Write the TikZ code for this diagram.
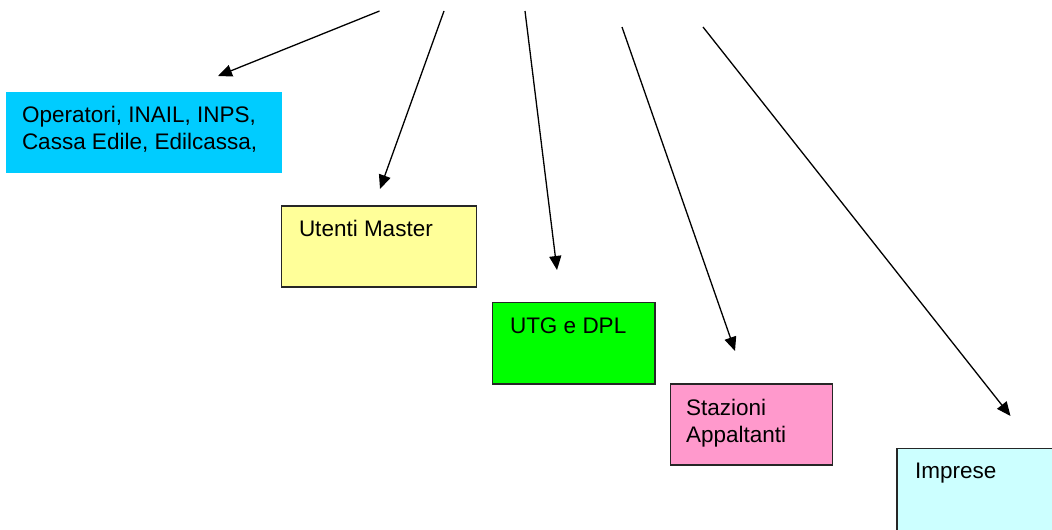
\documentclass[tikz,border=0pt]{standalone}
\usepackage{fontspec}
\setmainfont{Liberation Sans}
\usetikzlibrary{arrows.meta}
\definecolor{cOp}{HTML}{00CCFF}
\definecolor{cMa}{HTML}{FFFF99}
\definecolor{cUt}{HTML}{00FF00}
\definecolor{cSt}{HTML}{FF99CC}
\definecolor{cIm}{HTML}{CCFFFF}
\newcommand\boxtxt[5]{\vbox to #2{\hsize=#1\relax\parindent=0pt\parskip=0pt\leftskip=#3\relax\rightskip=0pt plus 1fil\relax\vskip #4\relax\fontsize{22.5}{27}\selectfont #5\par\vfill}}
\begin{document}
\begin{tikzpicture}[x=1pt,y=-1pt,
  bx/.style={anchor=north west, inner sep=0pt, outer sep=0pt, draw=black!85, line width=1.3pt},
  arr/.style={line width=1.3pt, -{Triangle[length=14pt,width=12pt]}}]
\useasboundingbox (0,0) rectangle (1052,530);
\fill[white] (0,0) rectangle (1052,530);
\clip (0,0) rectangle (1052,530);
\node[bx, draw=none, fill=cOp] (op) at (6,92) {\boxtxt{276pt}{81pt}{16pt}{14.3pt}{Operatori, INAIL, INPS,\\Cassa Edile, Edilcassa,}};
\node[bx, fill=cMa] (ma) at (281.5,206) {\boxtxt{195pt}{81pt}{17.5pt}{14pt}{Utenti Master}};
\node[bx, fill=cUt] (ut) at (492.5,302.5) {\boxtxt{162.5pt}{81.5pt}{17.5pt}{15.6pt}{UTG e DPL}};
\node[bx, fill=cSt] (st) at (670.5,384) {\boxtxt{162pt}{81pt}{15.5pt}{15.3pt}{Stazioni\\Appaltanti}};
\node[bx, fill=cIm] (im) at (897,448.5) {\boxtxt{200pt}{120pt}{18pt}{14.2pt}{Imprese}};
\coordinate (s1) at (379.5,11);  \coordinate (e1) at (218,76);
\coordinate (s2) at (444,11);    \coordinate (e2) at (380,189);
\coordinate (s3) at (525,11);    \coordinate (e3) at (557,270);
\coordinate (s4) at (622,27);    \coordinate (e4) at (735,351);
\coordinate (s5) at (703,27);    \coordinate (e5) at (1010.5,416);
\draw[arr] (s1) -- (e1);
\draw[arr] (s2) -- (e2);
\draw[arr] (s3) -- (e3);
\draw[arr] (s4) -- (e4);
\draw[arr] (s5) -- (e5);
\end{tikzpicture}
\end{document}
